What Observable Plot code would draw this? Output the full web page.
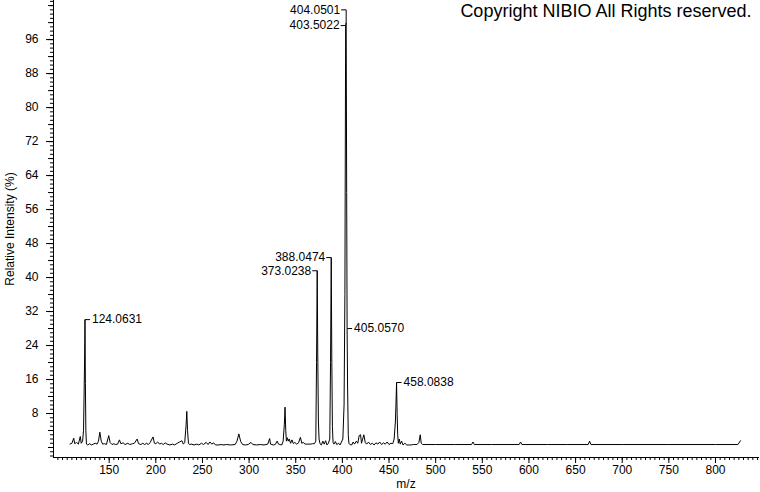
<!DOCTYPE html>
<html>
<head>
<meta charset="utf-8">
<script src="https://cdn.jsdelivr.net/npm/d3@7"></script>
<script src="https://cdn.jsdelivr.net/npm/@observablehq/plot@0.6"></script>
<style>
  html, body { margin: 0; padding: 0; background: white; }
</style>
</head>
<body>
<div id="chart"></div>
<script>
// ---- Data ----
const mz = [
  108, 110, 112, 113, 115, 117, 119, 120, 121.5, 122.5, 123.2, 123.7, 124.06, 124.5, 125, 125.6,
  127, 129, 131, 133, 135, 137, 138.5, 140, 141.5, 143, 145, 147, 149.5, 151, 153, 155, 157, 159,
  161, 162.5, 165, 167, 170, 172, 175, 177, 180, 181.5, 184, 186, 188, 190, 192, 194, 197, 198.5,
  200, 202, 204, 206, 208, 210, 212, 215, 218, 220, 223, 228, 229.5, 231, 232.5, 233.2, 234, 235,
  236, 238, 241, 244, 246, 249, 251, 254, 256, 258, 260, 262, 264, 267, 270, 272, 276, 280, 285,
  287, 289, 291, 293, 296, 299, 302, 304, 308, 312, 316, 320, 322, 323, 326, 328, 330, 331.5, 333,
  335, 336.5, 337.8, 338.5, 339.3, 340, 341, 342, 343, 344.5, 346, 347.5, 349, 351, 353, 355, 356.5,
  358, 360, 363, 366, 368, 370, 371.5, 372.3, 373.02, 373.6, 374.3, 375, 376, 377.5, 379, 380.5,
  382, 383.5, 385, 386.5, 387.3, 388.05, 388.6, 389.3, 390, 391, 392.5, 394, 396, 397.5, 399, 400.5,
  401.8, 402.7, 403.5, 404.05, 404.6, 405.06, 405.6, 406.3, 407, 408, 410, 411.5, 413, 415, 416.5,
  418, 419.5, 420.5, 421.5, 423, 424.5, 426, 428, 430, 432, 434, 436, 438, 440, 442, 444, 446, 448,
  450, 452, 454, 455.5, 456.8, 457.4, 458.08, 458.7, 459.3, 460, 461, 462, 463.5, 465, 467, 469,
  471, 474, 476, 480, 482, 483.5, 484.5, 486, 500, 520, 538.5, 540, 541.5, 560, 589.5, 591, 592.5,
  620, 640, 663.5, 665, 666.5, 700, 750, 800, 824, 826.8
];
const intensity = [
  0.8, 1.0, 2.2, 0.9, 1.2, 0.8, 2.6, 1.0, 1.5, 4, 14, 22, 30.1, 15, 4, 0.8,
  0.6, 0.9, 0.6, 0.8, 1.0, 0.8, 1.5, 3.6, 1.5, 0.8, 0.9, 0.7, 2.8, 1.2, 0.7, 0.9, 0.7, 0.8,
  1.8, 0.9, 1.1, 0.7, 1.0, 0.7, 0.9, 1.0, 2.0, 0.9, 0.7, 1.0, 0.7, 1.0, 0.7, 1.2, 2.5, 1.0,
  0.9, 1.3, 0.8, 1.0, 0.7, 1.1, 0.8, 0.6, 0.8, 0.6, 1.0, 1.6, 0.8, 1.2, 5.5, 8.5, 4, 1.0,
  0.7, 0.8, 0.6, 0.8, 0.6, 1.0, 0.7, 1.2, 0.7, 1.3, 0.8, 1.1, 0.6, 0.6, 0.7, 0.6, 0.7, 0.6, 0.7,
  1.5, 3.2, 1.4, 0.7, 0.6, 0.7, 1.2, 0.7, 0.6, 0.7, 0.6, 0.8, 2.1, 0.8, 0.6, 0.7, 1.5, 0.8, 0.7,
  0.6, 1.5, 5.5, 9.5, 4, 1.5, 2.3, 1.5, 2.0, 1.0, 1.8, 0.9, 1.2, 0.8, 1.1, 2.4, 1.0,
  1.2, 0.8, 0.8, 0.8, 0.9, 0.9, 1.5, 20, 41.6, 22, 6, 2, 0.9, 0.6, 1.5, 0.8,
  1.6, 0.6, 1.0, 2.0, 20, 44.7, 22, 5, 1.2, 0.8, 1.4, 0.7, 1.0, 0.6, 1.3, 2,
  10, 36, 99.3, 100, 60, 28, 14, 3, 1.0, 0.7, 0.6, 1.3, 0.8, 1.5, 1.0,
  2.8, 3.0, 1.0, 1.8, 3.0, 1.2, 0.8, 1.3, 0.7, 1.0, 0.6, 1.1, 0.8, 1.3, 0.7, 1.1, 0.8, 1.3,
  0.7, 1.0, 0.9, 2.0, 6, 10, 15.3, 8, 3, 1.0, 2.0, 0.8, 1.5, 0.6, 1.0, 0.6,
  0.6, 0.6, 0.7, 0.7, 1.2, 3.0, 1.0, 0.7, 0.7, 0.7, 0.7, 1.3, 0.7, 0.7, 0.7, 1.3, 0.7,
  0.7, 0.7, 0.7, 1.5, 0.7, 0.7, 0.7, 0.7, 0.7, 1.6
];

// Peak annotations
const labelMz    = [124.0631, 373.0238, 388.0474, 404.0501, 403.5022, 405.0570, 458.0838];
const labelText  = ["124.0631", "373.0238", "388.0474", "404.0501", "403.5022", "405.0570", "458.0838"];
const labelLevel = [30.1, 41.6, 44.7, 103, 99.3, 28, 15.3];
const labelPeak  = [30.1, 41.6, 44.7, 100, 99.3, 28, 15.3];
const labelSide  = ["right", "left", "left", "left", "left", "right", "right"];

// Axis tick values and texts
const xTickValues = [150, 200, 250, 300, 350, 400, 450, 500, 550, 600, 650, 700, 750, 800];
const yTickValues = [8, 16, 24, 32, 40, 48, 56, 64, 72, 80, 88, 96];
const xLabel = "m/z";
const yLabel = "Relative Intensity (%)";
const copyright = "Copyright NIBIO All Rights reserved.";

// ---- Build tables ----
const spectrum = mz.map((m, i) => ({mz: m, intensity: intensity[i]}));
const labels = labelMz.map((m, i) => ({
  mz: m, text: labelText[i], level: labelLevel[i], peak: labelPeak[i], side: labelSide[i]
}));

const xDomain = [90.3, 846.1];
const yDomain = [-2.35, 105.2];
const W = 760, H = 492, mL = 53, mR = 2, mT = 0, mB = 35;
const pxPerUnit = (W - mL - mR) / (xDomain[1] - xDomain[0]);
const leaderLen = 5 / pxPerUnit; // leader arm of ~5px expressed in m/z units

const xMinor = d3.range(95, 846, 5);
const yMinor = d3.range(-2, 106, 1);
const yMid = d3.range(0, 106, 4);

const leftLabels = labels.filter(d => d.side === "left");
const rightLabels = labels.filter(d => d.side === "right");

const chart = Plot.plot({
  width: W, height: H,
  marginLeft: mL, marginRight: mR, marginTop: mT, marginBottom: mB,
  style: {fontFamily: "'Liberation Sans', Arial, sans-serif", fontSize: "12px", background: "white", color: "black", overflow: "visible"},
  x: {domain: xDomain},
  y: {domain: yDomain},
  marks: [
    Plot.axisX(xMinor, {tickSize: 3, tickFormat: () => "", label: null}),
    Plot.axisX(xTickValues, {tickSize: 6, tickPadding: 2, fontSize: 12, label: xLabel, labelArrow: "none", labelAnchor: "center", labelOffset: 30}),
    Plot.axisY(yMinor, {tickSize: 3, tickFormat: () => "", label: null}),
    Plot.axisY(yMid, {tickSize: 5, tickFormat: () => "", label: null}),
    Plot.axisY(yTickValues, {tickSize: 7, tickPadding: 8, fontSize: 12, label: yLabel, labelArrow: "none", labelAnchor: "center", labelOffset: 48}),
    Plot.frame({anchor: "left", stroke: "black"}),
    Plot.frame({anchor: "bottom", stroke: "black"}),
    Plot.line(spectrum, {x: "mz", y: "intensity", stroke: "black", strokeWidth: 1}),
    // vertical leaders from peak top to label level
    Plot.link(labels.filter(d => d.level > d.peak), {x1: "mz", x2: "mz", y1: "peak", y2: "level", stroke: "black", strokeWidth: 1}),
    // horizontal leader arms
    Plot.link(leftLabels, {x1: "mz", x2: d => d.mz - leaderLen, y1: "level", y2: "level", stroke: "black", strokeWidth: 1}),
    Plot.link(rightLabels, {x1: "mz", x2: d => d.mz + leaderLen, y1: "level", y2: "level", stroke: "black", strokeWidth: 1}),
    Plot.text(leftLabels, {x: d => d.mz - leaderLen, y: "level", text: "text", textAnchor: "end", dx: -1, fontSize: 12, fill: "black"}),
    Plot.text(rightLabels, {x: d => d.mz + leaderLen, y: "level", text: "text", textAnchor: "start", dx: 2, fontSize: 12, fill: "black"}),
    Plot.text([copyright], {frameAnchor: "top-right", dx: -7, dy: 4, lineAnchor: "top", textAnchor: "end", fontSize: 18, fill: "black"})
  ]
});
document.getElementById("chart").appendChild(chart);
</script>
</body>
</html>
